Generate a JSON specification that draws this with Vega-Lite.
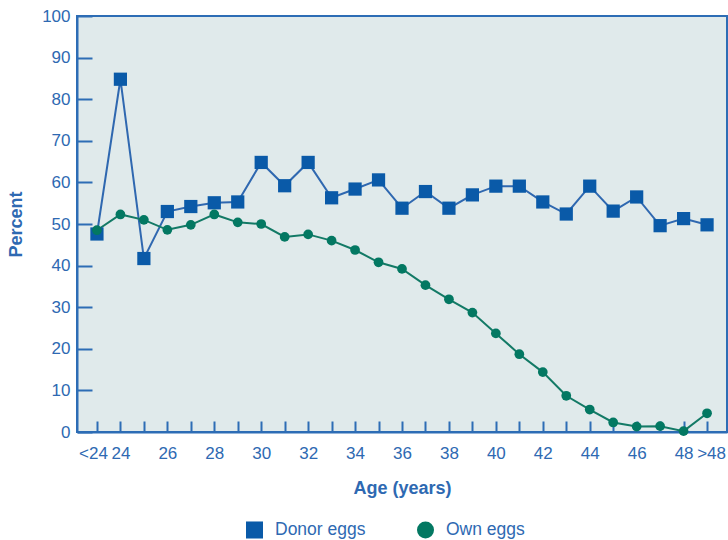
{
  "$schema": "https://vega.github.io/schema/vega-lite/v6.json",
  "width": 650,
  "height": 416,
  "autosize": "none",
  "padding": {"left": 77, "top": 16, "right": 1, "bottom": 108},
  "background": "white",
  "config": {
    "view": {"stroke": "#2d6db5", "strokeWidth": 2, "fill": "#e0eaeb"},
    "font": "Liberation Sans",
    "axis": {
      "domainColor": "#2d6db5",
      "domainWidth": 2,
      "tickColor": "#2d6db5",
      "tickWidth": 2,
      "labelColor": "#2e69b2",
      "labelFont": "Liberation Sans",
      "labelFontSize": 17,
      "titleColor": "#2e69b2",
      "titleFont": "Liberation Sans",
      "titleFontSize": 18,
      "titleFontWeight": "bold",
      "grid": false
    },
    "legend": {
      "labelColor": "#2e69b2",
      "labelFont": "Liberation Sans",
      "labelFontSize": 17.5
    }
  },
  "data": {
    "values": [
      {"age": "<24", "series": "Donor eggs", "percent": 47.6},
      {"age": "24", "series": "Donor eggs", "percent": 84.8},
      {"age": "25", "series": "Donor eggs", "percent": 41.7},
      {"age": "26", "series": "Donor eggs", "percent": 53.0},
      {"age": "27", "series": "Donor eggs", "percent": 54.2},
      {"age": "28", "series": "Donor eggs", "percent": 55.1},
      {"age": "29", "series": "Donor eggs", "percent": 55.3},
      {"age": "30", "series": "Donor eggs", "percent": 64.8},
      {"age": "31", "series": "Donor eggs", "percent": 59.2},
      {"age": "32", "series": "Donor eggs", "percent": 64.8},
      {"age": "33", "series": "Donor eggs", "percent": 56.3},
      {"age": "34", "series": "Donor eggs", "percent": 58.4},
      {"age": "35", "series": "Donor eggs", "percent": 60.6},
      {"age": "36", "series": "Donor eggs", "percent": 53.8},
      {"age": "37", "series": "Donor eggs", "percent": 57.8},
      {"age": "38", "series": "Donor eggs", "percent": 53.8},
      {"age": "39", "series": "Donor eggs", "percent": 57.0},
      {"age": "40", "series": "Donor eggs", "percent": 59.1},
      {"age": "41", "series": "Donor eggs", "percent": 59.1},
      {"age": "42", "series": "Donor eggs", "percent": 55.3},
      {"age": "43", "series": "Donor eggs", "percent": 52.4},
      {"age": "44", "series": "Donor eggs", "percent": 59.1},
      {"age": "45", "series": "Donor eggs", "percent": 53.1},
      {"age": "46", "series": "Donor eggs", "percent": 56.5},
      {"age": "47", "series": "Donor eggs", "percent": 49.6},
      {"age": "48", "series": "Donor eggs", "percent": 51.3},
      {"age": ">48", "series": "Donor eggs", "percent": 49.8},
      {"age": "<24", "series": "Own eggs", "percent": 48.5},
      {"age": "24", "series": "Own eggs", "percent": 52.3},
      {"age": "25", "series": "Own eggs", "percent": 51.0},
      {"age": "26", "series": "Own eggs", "percent": 48.6},
      {"age": "27", "series": "Own eggs", "percent": 49.8},
      {"age": "28", "series": "Own eggs", "percent": 52.3},
      {"age": "29", "series": "Own eggs", "percent": 50.4},
      {"age": "30", "series": "Own eggs", "percent": 50.0},
      {"age": "31", "series": "Own eggs", "percent": 46.9},
      {"age": "32", "series": "Own eggs", "percent": 47.5},
      {"age": "33", "series": "Own eggs", "percent": 46.0},
      {"age": "34", "series": "Own eggs", "percent": 43.75},
      {"age": "35", "series": "Own eggs", "percent": 40.8},
      {"age": "36", "series": "Own eggs", "percent": 39.2},
      {"age": "37", "series": "Own eggs", "percent": 35.3},
      {"age": "38", "series": "Own eggs", "percent": 31.9},
      {"age": "39", "series": "Own eggs", "percent": 28.7},
      {"age": "40", "series": "Own eggs", "percent": 23.7},
      {"age": "41", "series": "Own eggs", "percent": 18.7},
      {"age": "42", "series": "Own eggs", "percent": 14.4},
      {"age": "43", "series": "Own eggs", "percent": 8.7},
      {"age": "44", "series": "Own eggs", "percent": 5.4},
      {"age": "45", "series": "Own eggs", "percent": 2.3},
      {"age": "46", "series": "Own eggs", "percent": 1.3},
      {"age": "47", "series": "Own eggs", "percent": 1.4},
      {"age": "48", "series": "Own eggs", "percent": 0.2},
      {"age": ">48", "series": "Own eggs", "percent": 4.5}
    ]
  },
  "encoding": {
    "x": {
      "field": "age",
      "type": "ordinal",
      "sort": null,
      "scale": {
        "type": "point",
        "padding": 0.85,
        "domain": ["<24","24","25","26","27","28","29","30","31","32","33","34","35","36","37","38","39","40","41","42","43","44","45","46","47","48",">48"]
      },
      "axis": {
        "title": "Age (years)",
        "labelAngle": 0,
        "tickSize": -11,
        "labelPadding": 24,
        "titlePadding": 18,
        "labelOffset": {
          "condition": [
            {"test": "datum.value == '<24'", "value": -4},
            {"test": "datum.value == '>48'", "value": 4}
          ],
          "value": 0
        },
        "labelExpr": "datum.value == '<24' || datum.value == '>48' || toNumber(datum.value) % 2 == 0 ? datum.value : ''"
      }
    },
    "y": {
      "field": "percent",
      "type": "quantitative",
      "scale": {"domain": [0, 100], "nice": false},
      "axis": {
        "title": "Percent",
        "values": [0, 10, 20, 30, 40, 50, 60, 70, 80, 90, 100],
        "tickSize": -15,
        "labelPadding": 22,
        "titlePadding": 16
      }
    }
  },
  "layer": [
    {
      "transform": [{"filter": "datum.series == 'Donor eggs'"}],
      "mark": {"type": "line", "color": "#2f68b0", "strokeWidth": 2}
    },
    {
      "transform": [{"filter": "datum.series == 'Own eggs'"}],
      "mark": {"type": "line", "color": "#137a66", "strokeWidth": 2}
    },
    {
      "mark": {"type": "point", "filled": true, "opacity": 1},
      "encoding": {
        "color": {
          "field": "series",
          "type": "nominal",
          "scale": {"domain": ["Donor eggs", "Own eggs"], "range": ["#0a5aa8", "#037862"]},
          "legend": {
            "title": null,
            "orient": "none",
            "legendX": 168,
            "legendY": 504,
            "direction": "horizontal",
            "symbolSize": 290,
            "labelOffset": 11,
            "columnPadding": 50
          }
        },
        "shape": {
          "field": "series",
          "type": "nominal",
          "scale": {"domain": ["Donor eggs", "Own eggs"], "range": ["square", "circle"]}
        },
        "size": {
          "condition": {"test": "datum.series == 'Donor eggs'", "value": 175},
          "value": 95
        }
      }
    }
  ]
}
